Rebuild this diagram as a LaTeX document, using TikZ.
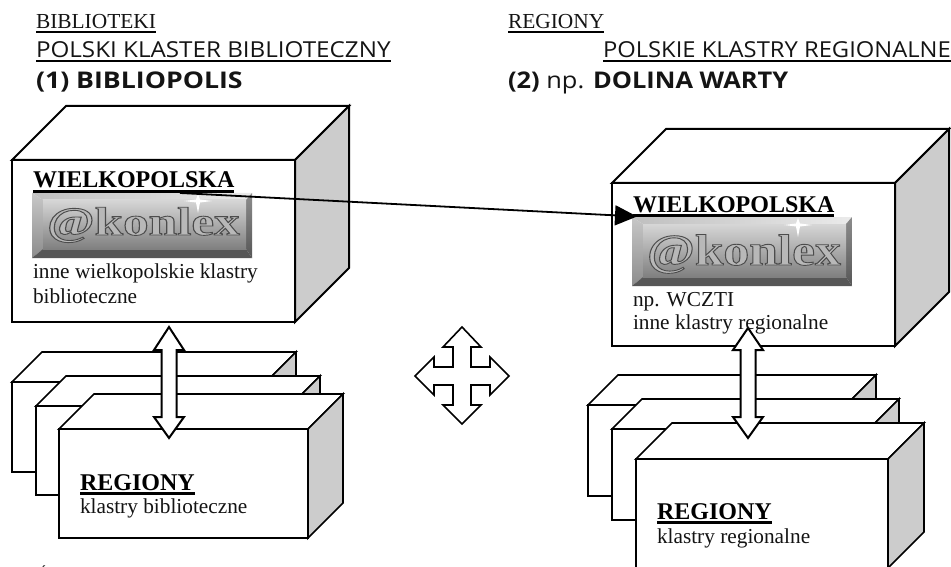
\documentclass[tikz,border=0pt]{standalone}
\usepackage{fontspec}
\usepackage{graphicx}
\setmainfont{Liberation Serif}
\newfontfamily\comicf{Open Sans}
\usetikzlibrary{arrows.meta,calc}
\definecolor{sidegray}{gray}{0.8}
\tikzset{
  edgeline/.style={line width=#1,line join=miter,draw=black},
  edgeline/.default=2pt,
  lbl/.style={inner sep=0pt,outer sep=0pt,anchor=base west,text=black!92},
  body/.style={lbl,font=\fontsize{21.3}{21}\selectfont},
  titleb/.style={lbl,font=\fontsize{24}{24}\selectfont\bfseries,text=black},
  headserif/.style={lbl,font=\fontsize{21.4}{20}\selectfont},
  headc/.style={lbl,font=\fontsize{22}{22}\selectfont\comicf},
  headb/.style={lbl,font=\fontsize{23}{23}\selectfont\comicf\bfseries},
  ulthin/.style={line width=1.3pt},
  ulthick/.style={line width=2.4pt},
  blockarrow/.style={draw=black,fill=white,line width=2pt,line join=miter},
  link/.style={draw=black,line width=1.8pt,-{Triangle[length=22pt,width=20pt]}}
}
% #1 line width, #2 front left, #3 front top, #4 front right, #5 front bottom, #6 depth
\newcommand\cuboid[6][2pt]{%
  \draw[edgeline=#1,fill=white] (#2,#3) -- (#2+#6,#3-#6) -- (#4+#6,#3-#6) -- (#4,#3) -- cycle;
  \draw[edgeline=#1,fill=sidegray] (#4,#3) -- (#4+#6,#3-#6) -- (#4+#6,#5-#6) -- (#4,#5) -- cycle;
  \draw[edgeline=#1,fill=white] (#2,#3) rectangle (#4,#5);
}
\newcommand\uline[3]{\draw[#1] ([yshift=#3]#2.base west) -- ([yshift=#3]#2.base east);}
% #1 x, #2 y, #3 height, #4 name, #5 font size, #6 x stretch, #7 baseline offset
\newcommand\konlex[7]{%
  \begin{scope}[shift={(#1,#2)}]
    \shade[left color=black!25,right color=black!8] (0,0) -- (220,0) -- (214,7) -- (11,7) -- cycle;
    \shade[top color=black!22,bottom color=black!45] (0,0) -- (11,7) -- (11,#3-9) -- (0,#3) -- cycle;
    \fill[black!66] (0,#3) -- (11,#3-9) -- (214,#3-9) -- (220,#3) -- cycle;
    \shade[top color=black!45,bottom color=black!66] (220,0) -- (214,7) -- (214,#3-9) -- (220,#3) -- cycle;
    \shade[top color=black!16,bottom color=black!50] (11,7) rectangle (214,#3-9);
    \fill[white] (166,1) -- (168,6.5) -- (180,8) -- (168,9.5) -- (166,20) -- (164,9.5) -- (152,8) -- (164,6.5) -- cycle;
    \node[lbl,font=\fontsize{#5}{#5}\selectfont\bfseries] (#4) at (15,#7)
      {\scalebox{#6}[1]{\special{pdf:code 2 Tr 0.9 w 0.3 G 0.72 g}@konlex\special{pdf:code 0 Tr}}};
  \end{scope}}
% #1 centre x, #2 top tip, #3 head base top, #4 head base bottom, #5 bottom tip
\newcommand\updown[5]{%
  \draw[blockarrow] (#1,#2) -- (#1+15,#3) -- (#1+7.5,#3) -- (#1+7.5,#4) -- (#1+15,#4) -- (#1,#5)
    -- (#1-15,#4) -- (#1-7.5,#4) -- (#1-7.5,#3) -- (#1-15,#3) -- cycle;}
\begin{document}
\begin{tikzpicture}[x=1pt,y=-1pt]
\useasboundingbox (0,0) rectangle (951,567);
\begin{scope}
\clip (0,0) rectangle (951,567);

% left column, upper box
\cuboid{12}{160}{295}{322}{54}
% left column, stack
\cuboid[1.7pt]{12}{382}{266}{472}{30}
\cuboid[1.7pt]{36}{406}{290}{495}{30}
\cuboid[1.7pt]{59}{429}{308}{538}{35}
% right column, upper box
\cuboid{612}{183}{895}{346}{54}
% right column, stack
\cuboid[1.7pt]{588}{405}{846}{496}{30}
\cuboid[1.7pt]{612}{429}{869}{520}{30}
\cuboid[1.7pt]{636}{459}{888}{568}{36}

% logos
\konlex{32}{193}{65}{logoL}{40}{1.28}{42}
\konlex{632}{217}{69}{logoR}{44}{1.17}{48}

% block arrows
\updown{169}{327}{350}{417}{438}
\updown{748}{328}{350}{417}{438}
\draw[blockarrow,line width=1.6pt] (462,327) -- (481,347) -- (471,347) -- (471,367) -- (490,367) -- (490,357)
  -- (509,376) -- (490,395) -- (490,385) -- (471,385) -- (471,405) -- (481,405) -- (462,424)
  -- (443,405) -- (453,405) -- (453,385) -- (434,385) -- (434,395) -- (415,376) -- (434,357)
  -- (434,367) -- (453,367) -- (453,347) -- (443,347) -- cycle;

% headings
\node[headserif] (h1) at (36,29) {BIBLIOTEKI\ };
\uline{ulthin}{h1}{-3pt}
\node[headc] (h2) at (36,57.5) {\scalebox{1.10}[1]{POLSKI KLASTER BIBLIOTECZNY}};
\uline{ulthin}{h2}{-3.5pt}
\node[headb] (h3) at (36,89) {\scalebox{1.16}[1]{(1) BIBLIOPOLIS}};
\node[headserif] (h4) at (508,29) {REGIONY};
\uline{ulthin}{h4}{-3pt}
\node[headc] (h5) at (603,57.5) {\scalebox{1.08}[1]{POLSKIE KLASTRY REGIONALNE}};
\uline{ulthin}{h5}{-3.5pt}
\node[headb] (h6) at (508,89) {\scalebox{1.105}[1]{(2) {\mdseries np.} DOLINA WARTY}};

% box texts
\node[titleb] (t1) at (33,188) {WIELKOPOLSKA};
\uline{ulthick}{t1}{-3.5pt}
\node[body] (t2) at (33,278) {inne wielkopolskie klastry};
\node[body] (t3) at (33,303) {biblioteczne};
\node[titleb] (t4) at (633,212) {WIELKOPOLSKA};
\uline{ulthick}{t4}{-3.5pt}
\node[body] (t5) at (633,306) {np. WCZTI};
\node[body] (t6) at (633,329) {inne klastry regionalne};
\node[titleb] (t7) at (80,490) {REGIONY};
\uline{ulthick}{t7}{-3.5pt}
\node[body] (t8) at (80,513) {klastry biblioteczne};
\node[titleb] (t9) at (657,519) {REGIONY};
\uline{ulthick}{t9}{-3.5pt}
\node[body] (t10) at (657,543) {klastry regionalne};

% connector between the two WIELKOPOLSKA labels
\coordinate (linkA) at (180,193);
\coordinate (linkB) at (637,216.5);
\draw[link] (linkA) -- (linkB);

% source line, cut off by the page edge
\node[lbl,font=\fontsize{16}{16}\selectfont] (src) at (38,579) {Źródło:};
\end{scope}
\end{tikzpicture}
\end{document}
